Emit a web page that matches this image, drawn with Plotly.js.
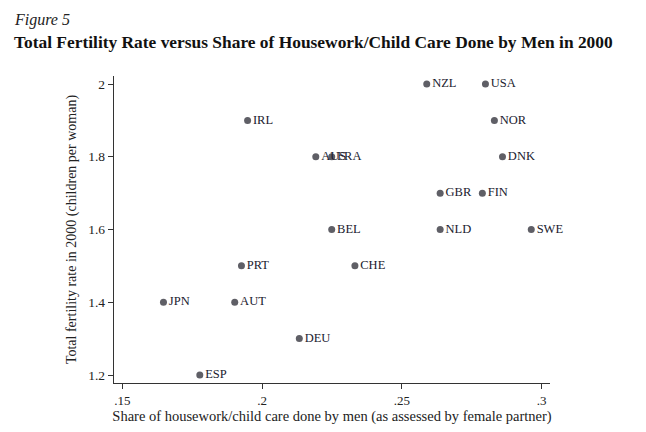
<!DOCTYPE html>
<html>
<head>
<meta charset="utf-8">
<script src="https://cdn.plot.ly/plotly-3.0.1.min.js"></script>
<style>html,body{margin:0;padding:0;background:#fff;}#chart{width:646px;height:432px;}</style>
</head>
<body>
<div id="chart"></div>
<script>
const countries = ["IRL","AUS","FRA","BEL","NZL","USA","NOR","DNK","GBR","FIN","NLD","SWE","PRT","CHE","JPN","AUT","DEU","ESP"];
const menShare = [0.1948,0.2192,0.2249,0.2249,0.2589,0.2799,0.2831,0.2860,0.2637,0.2788,0.2637,0.2963,0.1926,0.2332,0.1647,0.1902,0.2133,0.1777];
const fertility = [1.9,1.8,1.8,1.6,2.0,2.0,1.9,1.8,1.7,1.7,1.6,1.6,1.5,1.5,1.4,1.4,1.3,1.2];
const xTickVals = [0.15,0.2,0.25,0.3];
const xTickText = [".15",".2",".25",".3"];
const yTickVals = [1.2,1.4,1.6,1.8,2];
const yTickText = ["1.2","1.4","1.6","1.8","2"];

const serif = "Liberation Serif, DejaVu Serif, serif";

const trace = {
  x: menShare, y: fertility, text: countries,
  type: "scatter", mode: "markers+text",
  textposition: "middle right",
  marker: {size: 7, color: "#5f5f66"},
  textfont: {family: serif, size: 12.5, color: "#1a1a2e"},
  cliponaxis: false,
  hoverinfo: "none"
};

const layout = {
  width: 646, height: 432,
  margin: {l: 114, r: 96, t: 76, b: 49},
  paper_bgcolor: "#fff", plot_bgcolor: "#fff",
  showlegend: false,
  font: {family: serif, color: "#222"},
  xaxis: {
    range: [0.147, 0.303],
    tickvals: xTickVals, ticktext: xTickText,
    showgrid: false, zeroline: false,
    showline: true, linecolor: "#333", linewidth: 1.3,
    ticks: "outside", ticklen: 5, tickcolor: "#333", tickwidth: 1,
    tickfont: {family: serif, size: 13, color: "#222"},
    title: {text: "Share of housework/child care done by men (as assessed by female partner)", font: {family: serif, size: 14.5, color: "#222"}, standoff: 2}
  },
  yaxis: {
    range: [1.178, 2.022],
    tickvals: yTickVals, ticktext: yTickText,
    showgrid: false, zeroline: false,
    showline: true, linecolor: "#333", linewidth: 1.3,
    ticks: "outside", ticklen: 5, tickcolor: "#333", tickwidth: 1,
    tickfont: {family: serif, size: 13.5, color: "#222"},
    title: {text: "Total fertility rate in 2000 (children per woman)", font: {family: serif, size: 14, color: "#222"}, standoff: 8}
  },
  annotations: [
    {text: "<i>Figure 5</i>", xref: "paper", yref: "paper",
     x: (12 - 114) / 436, y: 1 + (76 - 9) / 307, xanchor: "left", yanchor: "top",
     showarrow: false, font: {family: serif, size: 16, color: "#222"}},
    {text: "<b>Total Fertility Rate versus Share of Housework/Child Care Done by Men in 2000</b>", xref: "paper", yref: "paper",
     x: (12 - 114) / 436, y: 1 + (76 - 30) / 307, xanchor: "left", yanchor: "top",
     showarrow: false, font: {family: serif, size: 17.4, color: "#111"}}
  ]
};

Plotly.newPlot("chart", [trace], layout, {displayModeBar: false, staticPlot: true});
</script>
</body>
</html>
